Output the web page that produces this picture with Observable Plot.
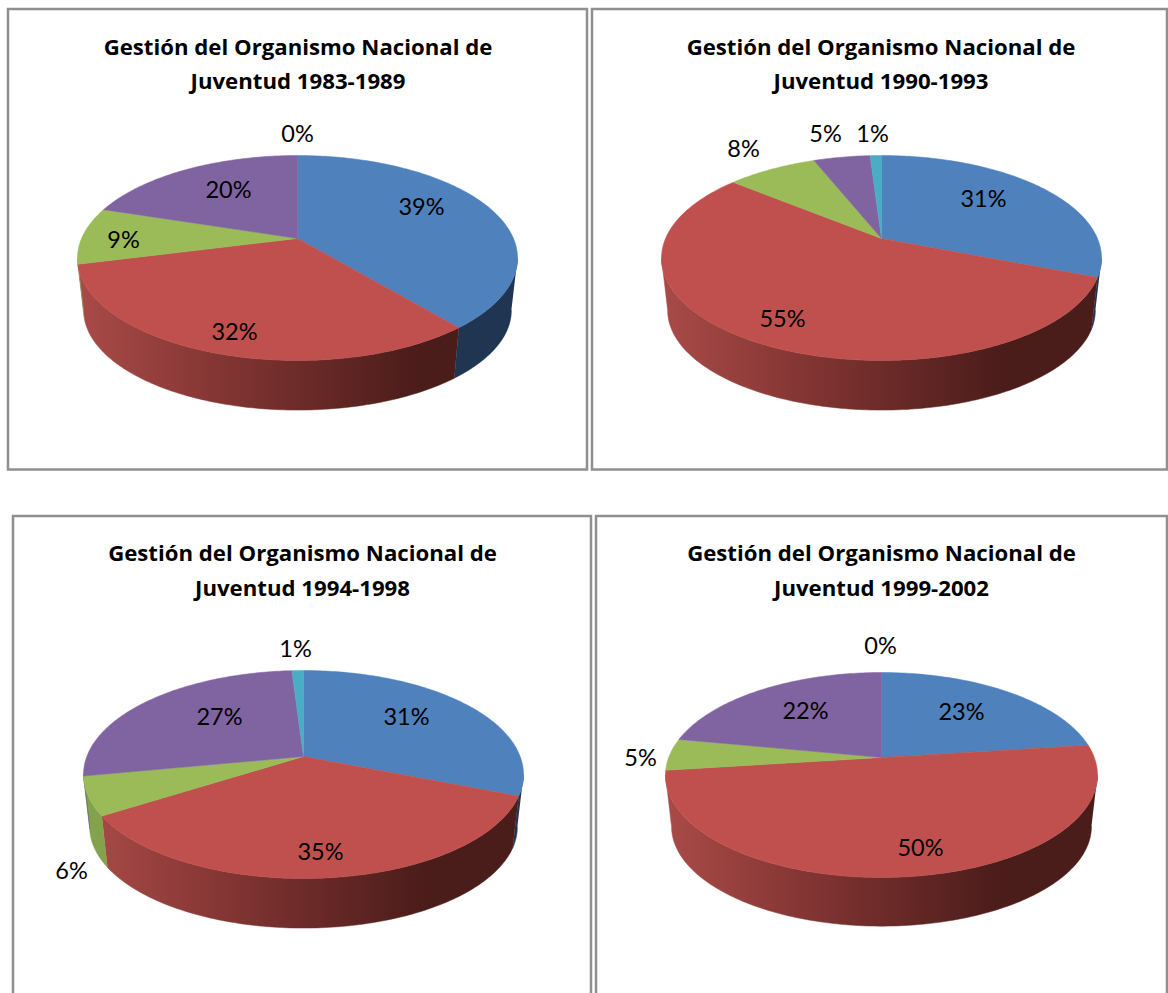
<!DOCTYPE html>
<html><head><meta charset="utf-8">
<script src="https://cdn.jsdelivr.net/npm/d3@7"></script>
<script src="https://cdn.jsdelivr.net/npm/@observablehq/plot@0.6"></script>
<style>html,body{margin:0;padding:0;background:#fff}svg{display:block}</style>
</head><body><div id="chart"></div>
<script>
// ---- data ----
const categories = ["Serie 1","Serie 2","Serie 3","Serie 4","Serie 5"];
const titles1983 = ["Gestión del Organismo Nacional de","Juventud 1983-1989"];
const titles1990 = ["Gestión del Organismo Nacional de","Juventud 1990-1993"];
const titles1994 = ["Gestión del Organismo Nacional de","Juventud 1994-1998"];
const titles1999 = ["Gestión del Organismo Nacional de","Juventud 1999-2002"];
const values1983 = [39,32,9,20,0];
const values1990 = [31,55,8,5,1];
const values1994 = [31,35,6,27,1];
const values1999 = [23,50,5,22,0];

// ---- styles and layout ----
const topColors = ["#4f81bd","#c0504d","#9bbb59","#8064a2","#4bacc6"];
const sideColors = ["#1f3552",null,"#84a24c","#5f4a7a","#368196"];
const TITLE_FONT = "'Open Sans', sans-serif";
const LABEL_FONT = "Lato, 'Open Sans', sans-serif";
const frameColor = "#8f8f8f";
const panels = [
  {titles:titles1983, values:values1983, frame:[8,9,587,469.5], cx:297, cy:238, rx:220, top:155, bot:360, depth:53, tx:297.5, ty:[47.5,81.5],
   labels:[[124,-31],[-63,94],[-174,2],[-69,-48],[0,-104]]},
  {titles:titles1990, values:values1990, frame:[592,9,1167,469.5], cx:881, cy:238, rx:220, top:155, bot:360, depth:53, tx:880.5, ty:[47.5,81.5],
   labels:[[102,-39],[-99,81],[-138,-89],[-56,-104],[-9,-104]]},
  {titles:titles1994, values:values1994, frame:[13,516,591,1010], cx:303, cy:756, rx:220, top:670, bot:878, depth:53, tx:302, ty:[553.5,588.5],
   labels:[[103,-39],[17,96],[-232,115],[-84,-39],[-8,-107]]},
  {titles:titles1999, values:values1999, frame:[596,516,1167,1010], cx:881, cy:757, rx:216, top:672, bot:877, depth:52, tx:881, ty:[553.5,588.5],
   labels:[[80,-45],[39,91],[-241,1],[-76,-46],[-1,-111]]}
];

// ---- geometry: a circle seen in perspective, driven by the shares ----
function projector(p, shift = 0, scale = 1) {
  const up = p.cy - p.top, down = p.bot - p.cy;
  const b = 2 * up * down / (up + down), k = (down - up) / (up + down);
  const a = p.rx * Math.sqrt(1 - k * k);
  return deg => {
    const t = deg * Math.PI / 180, u = Math.sin(t), v = -Math.cos(t), d = 1 - k * v;
    return [p.cx + scale * a * u / d, p.cy + shift + scale * b * v / d];
  };
}
const arcDegs = (a, b) => { const n = Math.max(2, Math.ceil((b - a) / 1)); return d3.range(n + 1).map(i => a + (b - a) * i / n); };

const tops = [], sides = [], labelRows = [], titleRows = [], frames = [], defsInfo = [];
panels.forEach((p, pi) => {
  const total = d3.sum(p.values), f = projector(p), g = projector(p, p.depth, 0.972);
  const up = p.cy - p.top, down = p.bot - p.cy, k = (down - up) / (up + down);
  const thR = Math.acos(-k) * 180 / Math.PI, thL = 360 - thR;
  let acc = 0;
  p.values.forEach((v, i) => {
    const a = acc / total * 360; acc += v; const b = acc / total * 360;
    if (v > 0) {
      const id = `t${pi}-${i}`;
      const pts = [[p.cx, p.cy], ...arcDegs(a, b).map(f), [p.cx, p.cy]];
      pts.forEach(q => tops.push({x:q[0], y:q[1], id, cat:categories[i]}));
      const s0 = Math.max(a, thR), s1 = Math.min(b, thL);
      if (s1 > s0) {
        const degs = arcDegs(s0, s1);
        const fill = i === 1 ? `url(#redSide${pi})` : sideColors[i];
        [...degs.map(f), ...degs.slice().reverse().map(g)].forEach(q => sides.push({x:q[0], y:q[1], id:`s${pi}-${i}`, fill}));
      }
    }
    labelRows.push({x:p.cx + p.labels[i][0], y:p.cy + p.labels[i][1], text:`${v}%`});
  });
  p.titles.forEach((t, j) => titleRows.push({x:p.tx, y:p.ty[j], text:t}));
  frames.push({x1:p.frame[0], y1:p.frame[1], x2:p.frame[2], y2:p.frame[3]});
  defsInfo.push({id:`redSide${pi}`, x1:p.cx - p.rx, x2:p.cx + p.rx});
});

const gradientDefs = () => {
  const defs = d3.create("svg:defs");
  defsInfo.forEach(d => {
    const lg = defs.append("linearGradient").attr("id", d.id).attr("gradientUnits", "userSpaceOnUse")
      .attr("x1", d.x1).attr("x2", d.x2).attr("y1", 0).attr("y2", 0);
    [[0,"#a94b48"],[0.25,"#8c3a38"],[0.5,"#6d2b29"],[0.78,"#4a1c1a"],[1,"#4a1c1a"]]
      .forEach(([o,c]) => lg.append("stop").attr("offset", o).attr("stop-color", c));
  });
  return defs.node();
};

const chart = Plot.plot({
  width:1168, height:993, margin:0,
  style:{background:"transparent"},
  x:{axis:null, domain:[0,1168]},
  y:{axis:null, domain:[993,0]},
  color:{domain:categories, range:topColors},
  marks:[
    gradientDefs,
    Plot.rect(frames, {x1:"x1", x2:"x2", y1:"y1", y2:"y2", fill:"white", stroke:frameColor, strokeWidth:2.5}),
    Plot.line(sides, {x:"x", y:"y", z:"id", fill:{value:"fill", scale:null}, stroke:{value:"fill", scale:null}, strokeWidth:0.5}),
    Plot.line(tops, {x:"x", y:"y", z:"id", fill:"cat", stroke:"cat", strokeWidth:0.5}),
    Plot.text(titleRows, {x:"x", y:"y", text:"text", fontFamily:TITLE_FONT, fontWeight:"bold", fontSize:22.2, fill:"black", lineAnchor:"middle"}),
    Plot.text(labelRows, {x:"x", y:"y", text:"text", fontFamily:LABEL_FONT, fontSize:23.5, fill:"black", lineAnchor:"middle"})
  ]
});
document.getElementById("chart").appendChild(chart);
</script></body></html>
